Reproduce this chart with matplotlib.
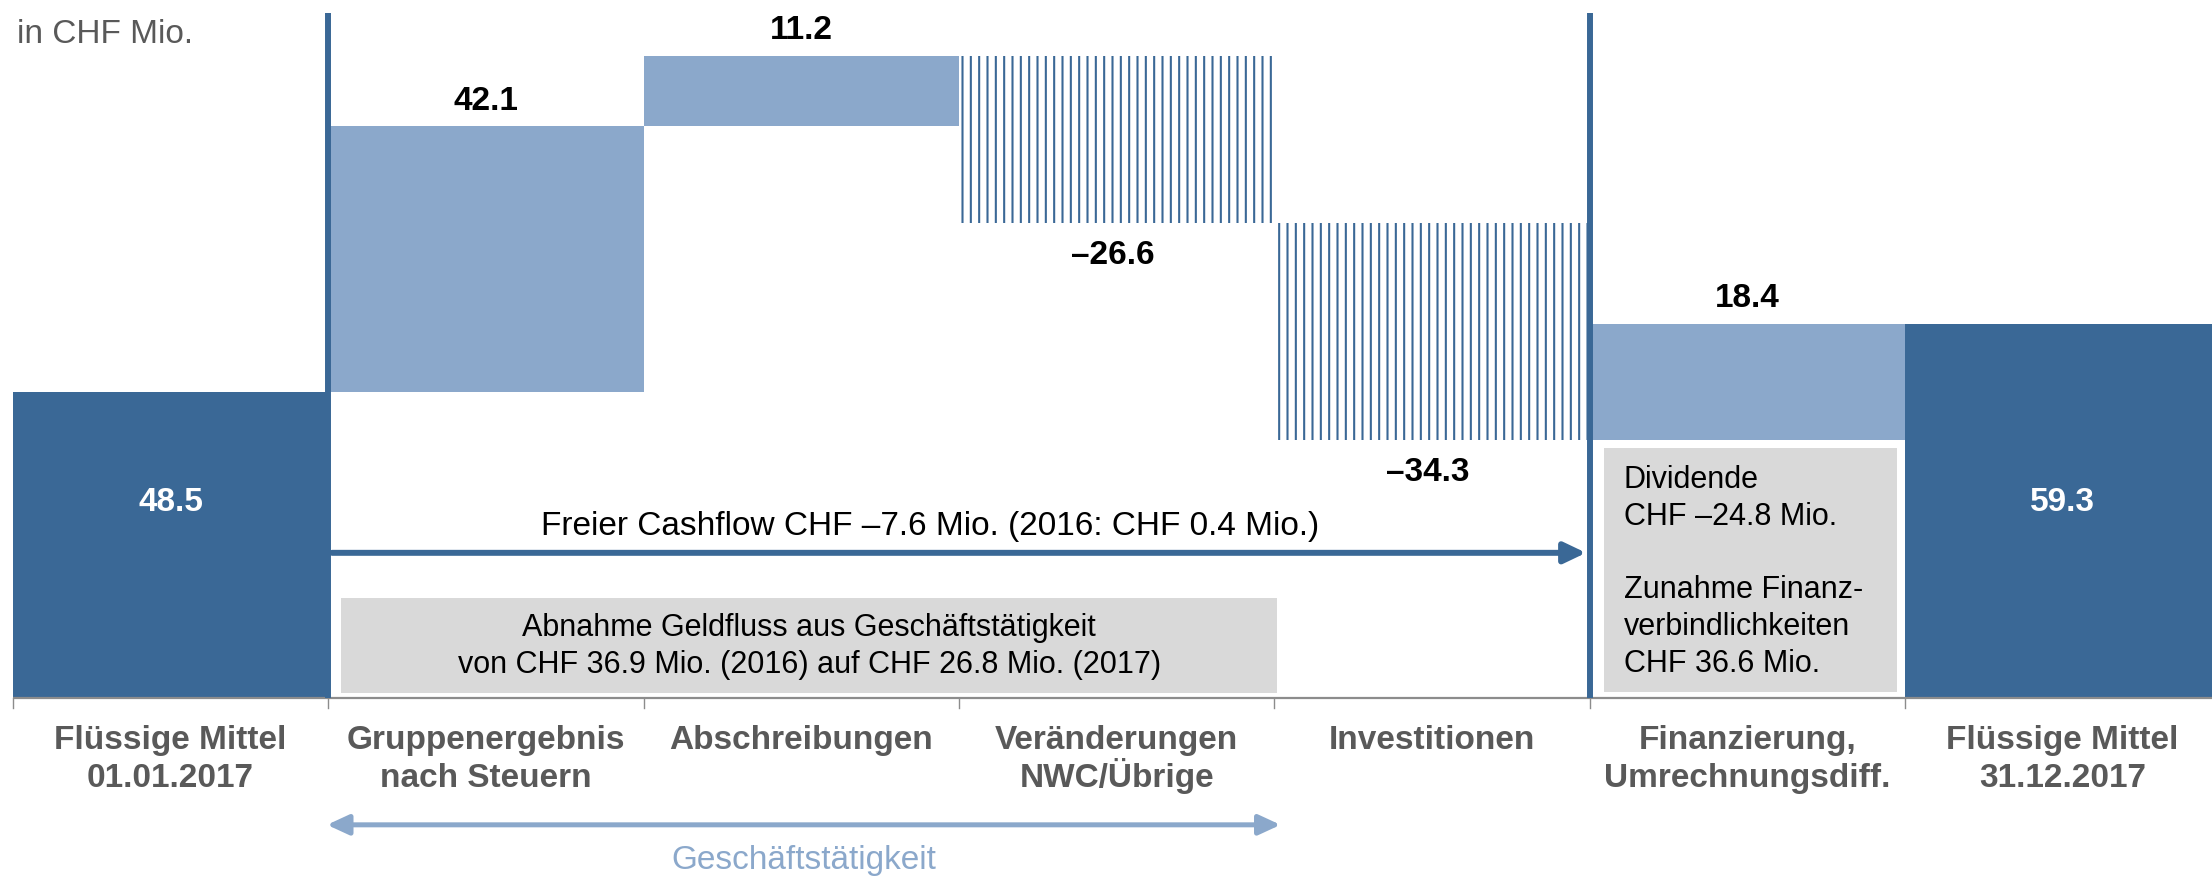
import matplotlib
matplotlib.use("Agg")
import matplotlib.pyplot as plt
from matplotlib.patches import Rectangle

plt.rcParams['font.family'] = ['Liberation Sans', 'DejaVu Sans']
plt.rcParams['hatch.linewidth'] = 1.5

# ---- data ----
categories = ["Flüssige Mittel\n01.01.2017", "Gruppenergebnis\nnach Steuern", "Abschreibungen",
              "Veränderungen\nNWC/Übrige", "Investitionen", "Finanzierung,\nUmrechnungsdiff.",
              "Flüssige Mittel\n31.12.2017"]
values = [48.5, 42.1, 11.2, -26.6, -34.3, 18.4, 59.3]
kinds = ["total", "delta", "delta", "delta", "delta", "delta", "total"]
value_labels = ["48.5", "42.1", "11.2", "–26.6", "–34.3", "18.4", "59.3"]

unit_label = "in CHF Mio."
fcf_text = "Freier Cashflow CHF –7.6 Mio. (2016: CHF 0.4 Mio.)"
box1_lines = ["Abnahme Geldfluss aus Geschäftstätigkeit",
              "von CHF 36.9 Mio. (2016) auf CHF 26.8 Mio. (2017)"]
box2_lines = ["Dividende", "CHF –24.8 Mio.", "", "Zunahme Finanz-",
              "verbindlichkeiten", "CHF 36.6 Mio."]
bracket_label = "Geschäftstätigkeit"

# ---- style ----
DARK = "#3A6896"
LIGHT = "#8BA8CB"
GRAYBOX = "#D9D9D9"
TXTGRAY = "#595959"
AXGRAY = "#8C8C8C"

fig = plt.figure(figsize=(22.12, 8.82), dpi=100)
ax = fig.add_axes([0, 0, 1, 1])
ax.set_xlim(-0.541, 6.474)
ax.set_ylim(-29.16, 110.6)
ax.axis('off')

# waterfall geometry
bottoms, heights = [], []
running = 0.0
for v, k in zip(values, kinds):
    if k == "total":
        bottoms.append(0.0)
        heights.append(v)
        running = v
    else:
        bottoms.append(running if v >= 0 else running + v)
        heights.append(abs(v))
        running += v

x = list(range(len(values)))
for i in x:
    if kinds[i] == "total":
        ax.bar(i, heights[i], bottom=bottoms[i], width=1.0, color=DARK, linewidth=0, zorder=2)
    elif values[i] >= 0:
        ax.bar(i, heights[i], bottom=bottoms[i], width=1.0, color=LIGHT, linewidth=0, zorder=2)
    else:
        ax.bar(i, heights[i], bottom=bottoms[i], width=1.0, facecolor="white",
               edgecolor=DARK, hatch="||", linewidth=0, zorder=2)

# value labels
for i in x:
    top = bottoms[i] + heights[i]
    if kinds[i] == "total":
        ax.text(i, 31.0, value_labels[i], ha='center', va='center', color='white',
                fontsize=24, fontweight='bold', zorder=5)
    elif values[i] >= 0:
        ax.annotate(value_labels[i], (i, top), xytext=(0, 12), textcoords='offset points',
                    ha='center', va='baseline', fontsize=24, fontweight='bold', color='black')
    else:
        ax.annotate(value_labels[i], (i, bottoms[i]), xytext=(-3, -12), textcoords='offset points',
                    ha='center', va='top', fontsize=24, fontweight='bold', color='black')

# axis line and ticks
ax.plot([-0.5, 6.474], [0, 0], color=AXGRAY, lw=1.6, zorder=3, solid_capstyle='butt')
for t in [i - 0.5 for i in range(len(values))]:
    ax.plot([t, t], [0, -1.6], color=AXGRAY, lw=1.0, zorder=3)

# category labels
for i, lab in enumerate(categories):
    for j, line in enumerate(lab.split("\n")):
        ax.text(i, -8.1 - 6.0 * j, line, ha='center', va='baseline', fontsize=24,
                fontweight='bold', color=TXTGRAY)

# separators
for sx in (0.5, 4.5):
    ax.plot([sx, sx], [0, 108.6], color=DARK, lw=4.3, solid_capstyle='butt', zorder=4)

# free cash flow arrow
ax.annotate('', xy=(4.489, 23.0), xytext=(0.512, 23.0),
            arrowprops=dict(arrowstyle='-|>,head_length=0.65,head_width=0.31', lw=4.3,
                            color=DARK, shrinkA=0, shrinkB=0, mutation_scale=20), zorder=4)
ax.text(2.41, 25.8, fcf_text, ha='center', va='baseline', fontsize=24, color='black')

# grey box 1
ax.add_patch(Rectangle((0.540, 0.8), 3.509 - 0.540, 15.85 - 0.8, facecolor=GRAYBOX,
                       edgecolor='none', zorder=1))
for j, line in enumerate(box1_lines):
    ax.text(2.025, 9.8 - 5.8 * j, line, ha='center', va='baseline', fontsize=22, color='black', zorder=3)

# grey box 2
ax.add_patch(Rectangle((4.546, 0.95), 5.475 - 4.546, 39.6 - 0.95, facecolor=GRAYBOX,
                       edgecolor='none', zorder=1))
for j, line in enumerate(box2_lines):
    if line:
        ax.text(4.609, 33.3 - 5.83 * j, line, ha='left', va='baseline', fontsize=22,
                color='black', zorder=3)

# bracket arrow Geschäftstätigkeit
ax.annotate('', xy=(3.52, -20.1), xytext=(0.496, -20.1),
            arrowprops=dict(arrowstyle='<|-|>,head_length=0.65,head_width=0.3', lw=3.6,
                            color=LIGHT, shrinkA=0, shrinkB=0, mutation_scale=20))
ax.text(2.008, -27.1, bracket_label, ha='center', va='baseline', fontsize=24, color=LIGHT)

# unit label
fig.text(17 / 2212, 1 - 43 / 882, unit_label, ha='left', va='baseline', fontsize=24, color=TXTGRAY)

fig.savefig("out.png", dpi=100)
